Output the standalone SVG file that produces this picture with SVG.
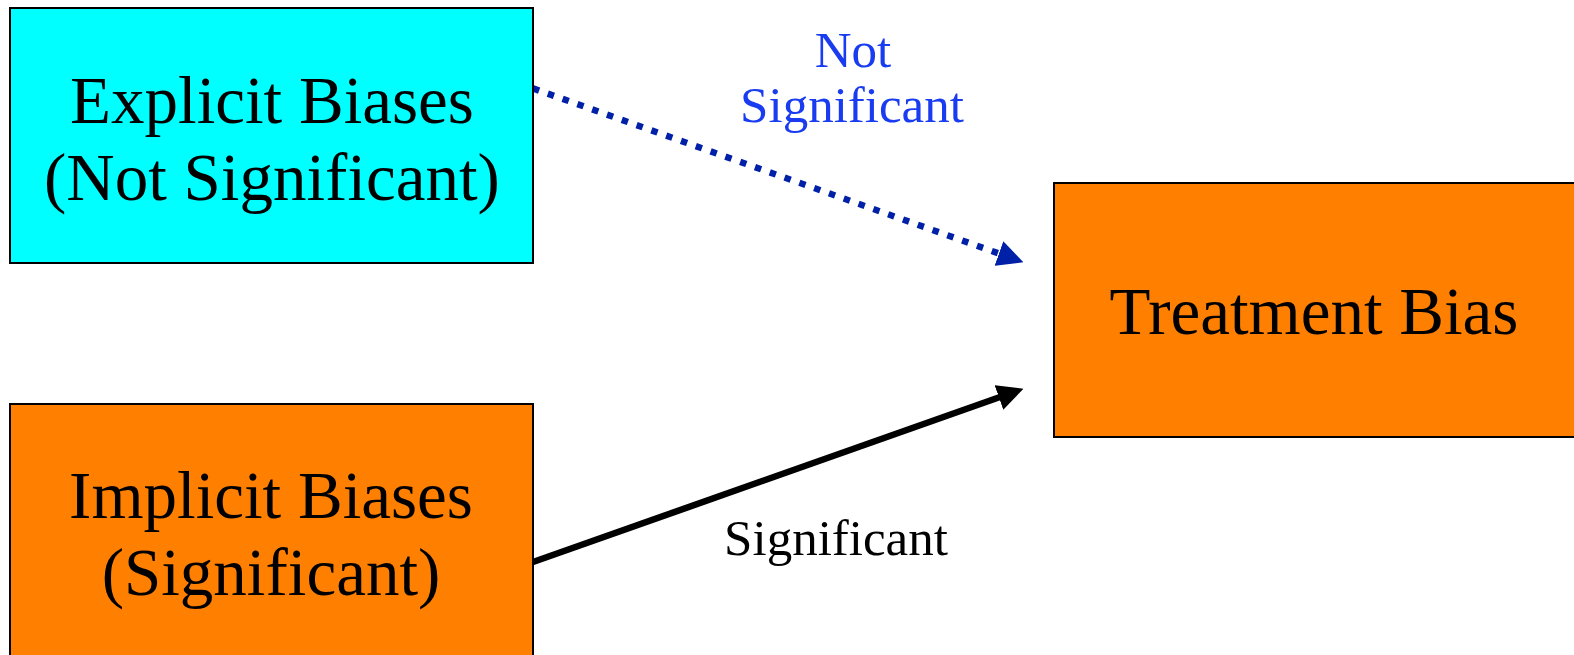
<svg xmlns="http://www.w3.org/2000/svg" width="1574" height="655" viewBox="0 0 1574 655">
  <style>
    .box { stroke: #000; stroke-width: 2; }
    .node-text { font-family: "Liberation Serif", "Times New Roman", serif; font-size: 67px; fill: #000; text-anchor: middle; }
    .edge-label { font-family: "Liberation Serif", "Times New Roman", serif; font-size: 51px; text-anchor: middle; }
    .dotted { fill: none; stroke: #0020A8; stroke-width: 6.5; stroke-dasharray: 6.5 9.2; }
    .solid { fill: none; stroke: #000; stroke-width: 6.5; }
  </style>
  <defs>
    <marker id="head-blue" markerUnits="userSpaceOnUse" markerWidth="26" markerHeight="26" viewBox="0 0 25 25" refX="12" refY="12.5" orient="auto">
      <path d="M0,0 L25,12.5 L0,25 z" fill="#0020A8"/>
    </marker>
    <marker id="head-black" markerUnits="userSpaceOnUse" markerWidth="26" markerHeight="26" viewBox="0 0 25 25" refX="12" refY="12.5" orient="auto">
      <path d="M0,0 L25,12.5 L0,25 z" fill="#000"/>
    </marker>
  </defs>

  <rect width="1574" height="655" fill="#fff"/>

  <!-- connectors -->
  <g id="connectors">
    <path id="edge-explicit-treatment" class="dotted" d="M533,88.4 L1010.7,257.7" marker-end="url(#head-blue)"/>
    <text class="edge-label" fill="#1a3cf0" x="853" y="67">Not</text>
    <text class="edge-label" fill="#1a3cf0" x="852" y="122">Significant</text>

    <path id="edge-implicit-treatment" class="solid" d="M533,562 L1010.7,393.3" marker-end="url(#head-black)"/>
    <text class="edge-label" fill="#000" x="836" y="555">Significant</text>
  </g>

  <!-- nodes -->
  <g id="node-explicit">
    <rect class="box" x="10" y="8" width="523" height="255" fill="#00FFFF"/>
    <text class="node-text" x="272" y="123">Explicit Biases</text>
    <text class="node-text" x="272" y="200">(Not Significant)</text>
  </g>

  <g id="node-implicit">
    <rect class="box" x="10" y="404" width="523" height="270" fill="#FF7F00"/>
    <text class="node-text" x="271" y="518">Implicit Biases</text>
    <text class="node-text" x="271" y="595">(Significant)</text>
  </g>

  <g id="node-treatment">
    <rect class="box" x="1054" y="183" width="540" height="254" fill="#FF7F00"/>
    <text class="node-text" x="1314" y="334">Treatment Bias</text>
  </g>
</svg>
